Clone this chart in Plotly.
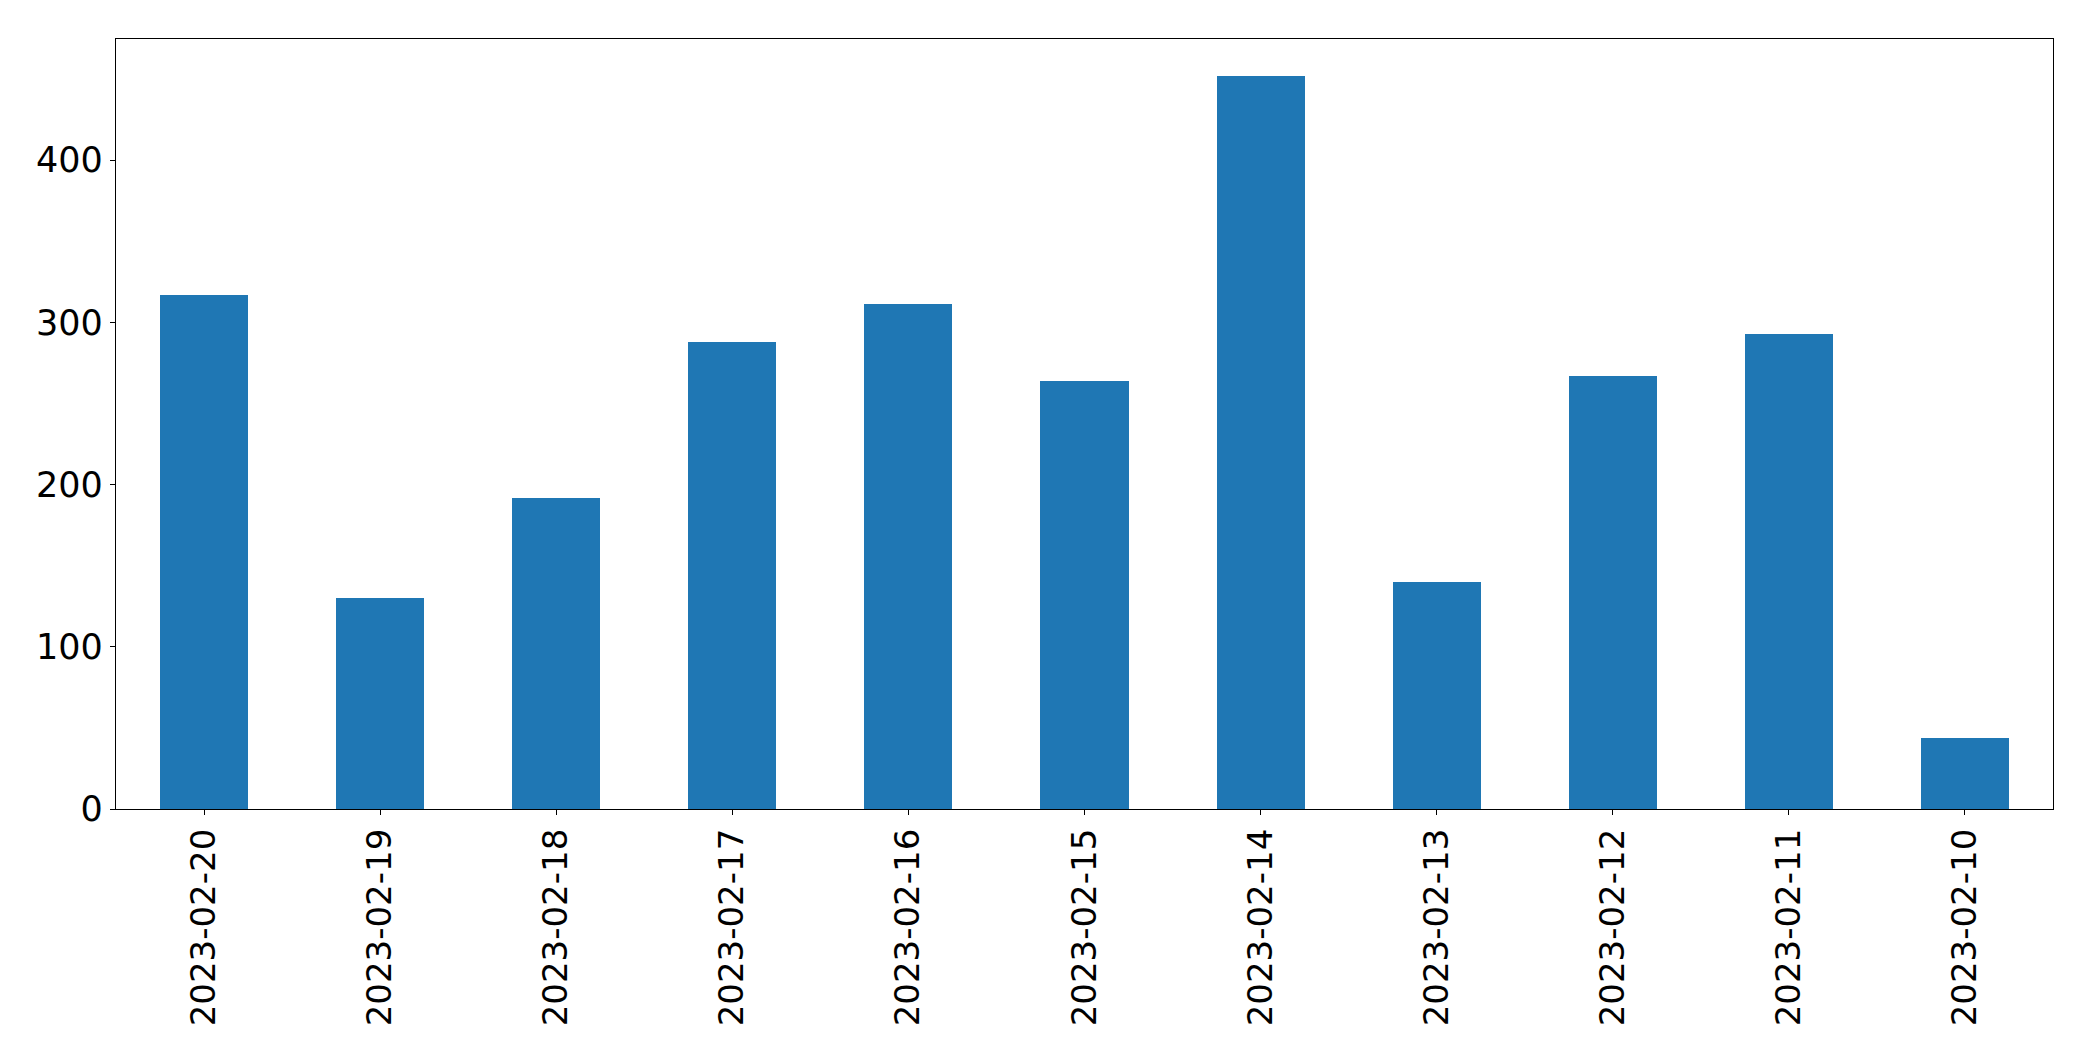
import plotly.graph_objects as go

dates = ["2023-02-20", "2023-02-19", "2023-02-18", "2023-02-17", "2023-02-16",
         "2023-02-15", "2023-02-14", "2023-02-13", "2023-02-12", "2023-02-11",
         "2023-02-10"]
counts = [317, 130, 192, 288, 311, 264, 452, 140, 267, 293, 44]
y_ticks = [0, 100, 200, 300, 400]

fig = go.Figure(go.Bar(x=dates, y=counts, width=0.5, marker=dict(color="#1f77b4", line=dict(width=0))))

fig.update_layout(
    width=2077, height=1045,
    margin=dict(l=108, r=32, t=31, b=244),
    paper_bgcolor="white", plot_bgcolor="white",
    font=dict(family="DejaVu Sans", size=34, color="black"),
    showlegend=False,
    bargap=0,
)
fig.update_xaxes(
    type="category", range=[-0.5, len(dates) - 0.5],
    tickangle=-90, showgrid=False, zeroline=False,
    showline=True, linecolor="black", linewidth=1.3, mirror=True,
    ticks="outside", ticklen=5, tickwidth=1.2, tickcolor="black",
    ticklabelstandoff=0,
)
fig.update_yaxes(
    range=[0, max(counts) * 1.05], tickvals=y_ticks,
    showgrid=False, zeroline=False,
    showline=True, linecolor="black", linewidth=1.3, mirror=True,
    ticks="outside", ticklen=5, tickwidth=1.2, tickcolor="black",
    ticklabelstandoff=0, tickfont=dict(size=35),
)

fig.write_html("out.html")
